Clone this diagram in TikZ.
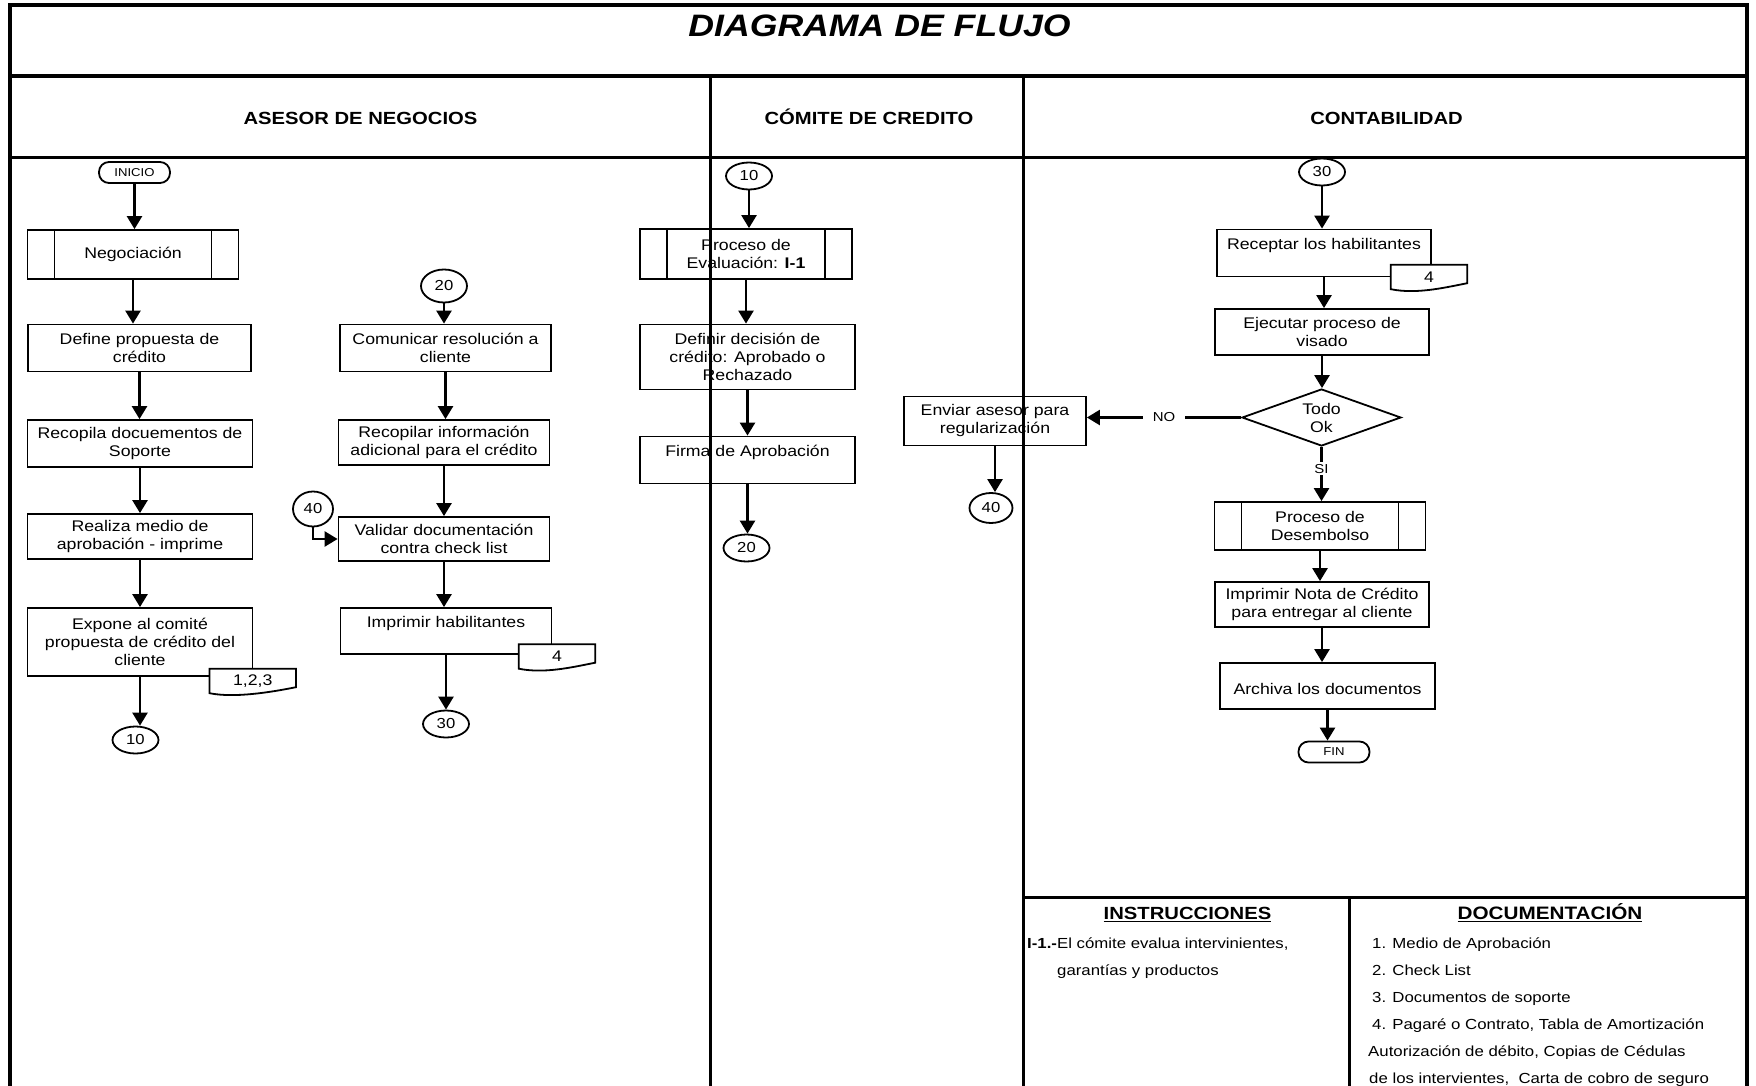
\documentclass[tikz,border=0pt]{standalone}
\usepackage{fontspec}
\setmainfont{Liberation Sans}[FakeStretch=1.15]
\usepackage{tikz}
\usetikzlibrary{shapes.geometric, arrows.meta, positioning, calc}
\newcommand{\boxfont}{\fontsize{15.4}{18}\selectfont}
\newcommand{\numfont}{\fontsize{14.5}{17}\selectfont}
\newcommand{\termfont}{\fontsize{11.4}{13}\selectfont}
\newcommand{\lanefont}{\fontsize{17.6}{20}\selectfont\bfseries}
\newcommand{\notefont}{\fontsize{14.6}{17}\selectfont}
\newcommand{\yesnofont}{\fontsize{13}{15}\selectfont}
\tikzstyle{proc} = [draw, rectangle, line width=1.8pt, align=center, inner sep=0pt, font=\boxfont]
\tikzstyle{subproc} = [proc, path picture={
    \draw[line width=1.8pt] ([xshift=27pt]path picture bounding box.north west) -- ([xshift=27pt]path picture bounding box.south west)
        ([xshift=-27pt]path picture bounding box.north east) -- ([xshift=-27pt]path picture bounding box.south east);}]
\tikzstyle{term} = [draw, rectangle, rounded corners=10pt, line width=1.8pt, minimum width=71pt, minimum height=21pt, inner sep=0pt, font=\termfont]
\tikzstyle{conn} = [draw, ellipse, line width=1.8pt, minimum width=46pt, minimum height=27pt, inner sep=0pt, font=\numfont]
\tikzstyle{doctag} = [fill=white, minimum height=24pt, inner sep=0pt, font=\boxfont]
\tikzstyle{arrow} = [line width=2.5pt, -{Triangle[length=13pt,width=15pt]}]
\tikzstyle{framerule} = [line width=3.4pt]
\tikzstyle{lane} = [line width=3pt]

\begin{document}
\begin{tikzpicture}[x=1pt, y=-1pt]
\useasboundingbox (0,0) rectangle (1756,1086);

% Titles
\node[font=\fontsize{31}{34}\selectfont\bfseries\itshape, anchor=base] (title) at (879.5,36.7) {DIAGRAMA DE FLUJO};
\foreach \x/\name/\txt in {360.5/asesor/ASESOR DE NEGOCIOS, 869/comite/CÓMITE DE CREDITO, 1386.5/conta/CONTABILIDAD}
    \node[font=\lanefont, anchor=base] (\name) at (\x,125) {\txt};

% Asesor de negocios
\node[term] (inicio) at (134.5,172.5) {INICIO};
\node[subproc, minimum width=211pt, minimum height=49pt] (neg) at (133,254.5) {Negociación};
\node[proc, minimum width=223pt, minimum height=47pt] (defp) at (139.5,348) {Define propuesta de\\crédito};
\node[proc, minimum width=225pt, minimum height=47pt] (recd) at (140,443.5) {Recopila docuementos de\\Soporte};
\node[proc, minimum width=225pt, minimum height=45pt] (real) at (140,536.5) {Realiza medio de\\aprobación - imprime};
\node[proc, minimum width=225pt, minimum height=68pt] (expo) at (140,642) {Expone al comité\\propuesta de crédito del\\cliente};
\node[doctag, minimum width=86pt] (tag123) at (252.7,681) {1,2,3};
\node[conn] (c10a) at (135.5,740) {10};

\node[conn, minimum height=33pt] (c20a) at (444,286) {20};
\node[proc, minimum width=211pt, minimum height=47pt] (comu) at (445.5,348) {Comunicar resolución a\\cliente};
\node[proc, minimum width=211pt, minimum height=45pt] (reci) at (444,442.5) {Recopilar información\\adicional para el crédito};
\node[proc, minimum width=211pt, minimum height=44pt] (vali) at (444,539) {Validar documentación\\contra check list};
\node[conn, minimum width=40pt, minimum height=35pt] (c40a) at (313,509) {40};
\node[proc, minimum width=211pt, minimum height=46pt] (imph) at (446,631) {Imprimir habilitantes\\~};
\node[doctag, minimum width=76pt] (tag4a) at (557,656.5) {4};
\node[conn] (c30a) at (446,724) {30};

% Comite de credito
\node[conn] (c10b) at (749,176) {10};
\node[subproc, minimum width=212pt, minimum height=50pt] (eval) at (746,254) {Proceso de\\Evaluación: \textbf{I-1}};
\node[proc, minimum width=215pt, minimum height=65pt] (defd) at (747.5,357) {Definir decisión de\\crédito: Aprobado o\\Rechazado};
\node[proc, minimum width=215pt, minimum height=47pt] (firm) at (747.5,460) {Firma de Aprobación\\~};
\node[conn] (c20b) at (746.5,548) {20};
\node[proc, minimum width=182pt, minimum height=49pt] (envi) at (995,421) {Enviar asesor para\\regularización};
\node[conn, minimum width=43pt, minimum height=30pt] (c40b) at (991,508) {40};

% Contabilidad
\node[conn] (c30b) at (1322,172) {30};
\node[proc, minimum width=214pt, minimum height=47pt] (rece) at (1324,253) {Receptar los habilitantes\\~};
\node[doctag, minimum width=76pt] (tag4b) at (1429,277) {4};
\node[proc, minimum width=214pt, minimum height=46pt] (ejec) at (1322,332) {Ejecutar proceso de\\visado};
\node[draw, diamond, aspect=2.8, line width=1.8pt, minimum width=159pt, minimum height=57pt, inner sep=0pt, align=center, font=\boxfont] (todo) at (1321.5,417.5) {Todo\\Ok};
\node[subproc, minimum width=211pt, minimum height=48pt] (dese) at (1320,526) {Proceso de\\Desembolso};
\node[proc, minimum width=214pt, minimum height=45pt] (nota) at (1322,604.5) {Imprimir Nota de Crédito\\para entregar al cliente};
\node[proc, minimum width=215pt, minimum height=46pt] (arch) at (1327.5,686) {~\\Archiva los documentos};
\node[term] (fin) at (1334,752) {FIN};

% Document tags
\foreach \t in {tag123,tag4a,tag4b}
    \draw[line width=1.8pt] (\t.north west) -- (\t.north east) -- ([yshift=6pt]\t.south east)
        .. controls ([xshift=-25pt,yshift=1pt]\t.south east) and ([xshift=25pt,yshift=-5pt]\t.south west) .. (\t.south west) -- cycle;

% Flow
\foreach \a/\b in {inicio/neg, neg/defp, defp/recd, recd/real, real/expo, expo/c10a, c20a/comu, comu/reci, reci/vali, vali/imph, imph/c30a,
    c10b/eval, eval/defd, defd/firm, firm/c20b, envi/c40b, c30b/rece, rece/ejec, ejec/todo, dese/nota, nota/arch, arch/fin}
    \draw[arrow] (\a) -- (\a |- \b.north);
\draw[arrow] (c40a) |- (vali.west);
\draw[arrow] (todo) -- node[pos=0.4, fill=white, inner sep=2pt, font=\yesnofont] (si) {SI} (todo |- dese.north);
\draw[arrow] (todo.west) -- node[fill=white, inner xsep=10pt, font=\yesnofont] (no) {NO} (todo.west -| envi.east);

% Frame and lanes
\draw[framerule] (10,1086) -- (10,5) -- (1747,5) -- (1747,1086);
\draw[framerule] (10,76) -- (1747,76) (10,157.5) -- (1747,157.5);
\draw[lane] (710,76) -- (710,1086) (1023,76) -- (1023,1086);
\draw[lane] (1023,897.5) -- (1747,897.5) (1349.5,897.5) -- (1349.5,1086);

% Instrucciones y documentacion
\node[font=\fontsize{17.6}{20}\selectfont\bfseries, anchor=base] (instr) at (1187.5,919.3) {\underline{INSTRUCCIONES}};
\node[font=\fontsize{18}{20}\selectfont\bfseries, anchor=base] (docum) at (1550,919.3) {\underline{DOCUMENTACIÓN}};
\node[font=\notefont, anchor=base west, inner sep=0pt] (ins1) at (1027,948) {\textbf{I-1.-}El cómite evalua intervinientes,};
\node[font=\notefont, anchor=base west, inner sep=0pt] (ins2) at (1057,975.2) {garantías y productos};
\foreach \i/\x/\y/\txt in {1/1372/948/{1. Medio de Aprobación}, 2/1372/975.2/{2. Check List}, 3/1372/1002.4/{3. Documentos de soporte},
    4/1372/1029.6/{4. Pagaré o Contrato, Tabla de Amortización}, 5/1368/1056.8/{Autorización de débito, Copias de Cédulas},
    6/1369/1083/{de los intervientes,~ Carta de cobro de seguro}}
    \node[font=\notefont, anchor=base west, inner sep=0pt] (doc\i) at (\x,\y) {\txt};
\end{tikzpicture}
\end{document}
